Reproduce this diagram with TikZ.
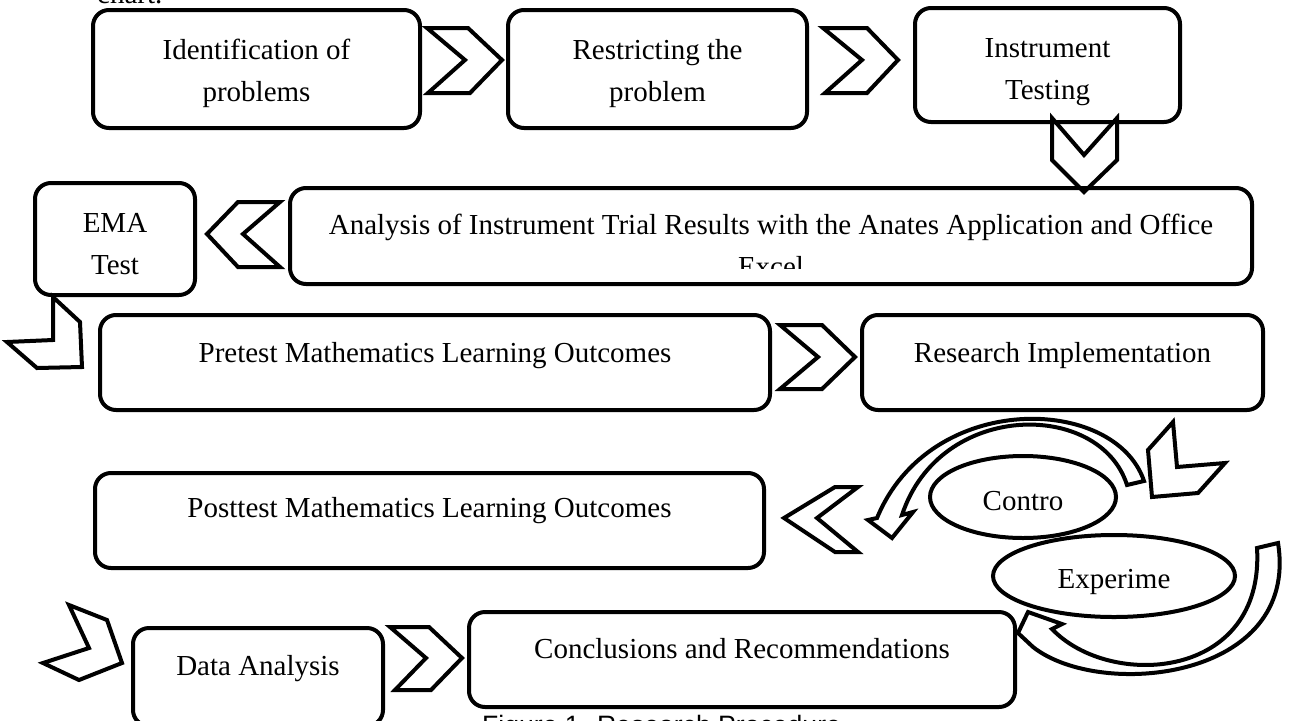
\documentclass[tikz,border=0pt]{standalone}
\usepackage{fontspec}
\setmainfont{Liberation Serif}
\newfontfamily\capfont{Liberation Sans}
\usetikzlibrary{shapes.geometric}
\newcommand{\twoln}[2]{\vtop{\halign{\hfil##\hfil\cr #1\cr #2\cr}}}
\begin{document}
\begin{tikzpicture}[x=1pt,y=-1pt,
  txt/.style={font=\fontsize{29}{42}\selectfont, inner sep=0pt},
  box/.style={txt, draw, line width=4pt, rounded corners=16pt, fill=white, anchor=base, minimum height=0pt},
  chev/.style={draw, line width=4pt, line join=miter, miter limit=10},
  carrow/.style={draw, line width=4pt, fill=white, line join=miter, miter limit=10},
  oval/.style={txt, draw, ellipse, line width=4pt, fill=white, text depth=0pt}]

\fill[white] (0,0) rectangle (1289,720);
\useasboundingbox (0,0) rectangle (1289,720);
\clip (0,0) rectangle (1289,720);

% clipped text at the page edges
\node[txt, anchor=base west] (chart) at (97,3.5) {chart.};
\node[font=\capfont\fontsize{26.6}{32}\selectfont, inner sep=0pt, anchor=base west] (cap) at (482,734) {Figure 1. Research Procedure};

% boxes
\node[box, minimum width=327pt, text height=49pt, text depth=69pt] (b1) at (256.5,59) {\twoln{Identification of}{problems}};
\node[box, minimum width=299pt, text height=49pt, text depth=69pt] (b2) at (657.5,59) {\twoln{Restricting the}{problem}};
\node[box, minimum width=265pt, text height=49pt, text depth=65pt] (b3) at (1047.5,57) {\twoln{Instrument}{Testing}};
\node[box, minimum width=962pt, text height=46pt, text depth=50pt] (b4) at (771,234) {Analysis of Instrument Trial Results with the Anates Application and Office};
\begin{scope}
  \clip (292,190) rectangle (1250,268);
  \node[txt, anchor=base] (excel) at (771,276) {Excel};
\end{scope}
\node[box, minimum width=160pt, text height=49pt, text depth=63pt] (ema) at (115,232) {\twoln{EMA}{Test}};
\node[box, minimum width=670pt, text height=47pt, text depth=48pt] (pre) at (435,362) {Pretest Mathematics Learning Outcomes};
\node[box, minimum width=401pt, text height=47pt, text depth=48pt] (res) at (1062.5,362) {Research Implementation};
\node[box, minimum width=669pt, text height=44pt, text depth=51pt] (post) at (429.5,517) {Posttest Mathematics Learning Outcomes};
\node[box, minimum width=250pt, text height=47pt, text depth=51pt] (data) at (258,675) {Data Analysis};
\node[box, minimum width=546pt, text height=46pt, text depth=49pt] (conc) at (742,658) {Conclusions and Recommendations};

% chevrons
\draw[chev] (427,28) -- (468,28) -- (502,60) -- (470,93) -- (428,93) -- (465,60) -- cycle;
\draw[chev] (823,28) -- (867,28) -- (898,60) -- (867,93) -- (825,93) -- (862,60) -- cycle;
\draw[chev] (1052,118) -- (1084,155) -- (1117,118) -- (1117,160) -- (1084,192) -- (1052,160) -- cycle;
\draw[chev] (280,202) -- (238,202) -- (207,234) -- (238,267) -- (280,267) -- (243,234) -- cycle;
\draw[chev] (53,297) -- (80,322) -- (82,367) -- (37,368) -- (7,342) -- (53,340) -- cycle;
\draw[chev] (780,325) -- (822,325) -- (855,357) -- (822,389) -- (780,389) -- (818,357) -- cycle;
\draw[chev] (1173,422) -- (1177,467) -- (1225,463) -- (1198,493) -- (1152,497) -- (1148,450) -- cycle;
\draw[chev] (858,487) -- (835,487) -- (784,518) -- (835,552) -- (858,552) -- (817,518) -- cycle;
\draw[chev] (69,605) -- (107,620) -- (122,663) -- (79,680) -- (43,663) -- (89,648) -- cycle;
\draw[chev] (390,627) -- (429,627) -- (462,658) -- (431,690) -- (395,690) -- (426,658) -- cycle;

% curved arrows
\draw[carrow] (1144,481) .. controls (1115,395) and (930,390) .. (877,518)
  -- (868,520) -- (892,538) -- (913,512) -- (902,515)
  .. controls (940,400) and (1100,400) .. (1127,485) -- cycle;
\draw[carrow] (1278,543) .. controls (1300,680) and (1100,700) .. (1033,647)
  -- (1018,633) -- (1028,612) -- (1062,624) -- (1052,629)
  .. controls (1110,690) and (1265,680) .. (1257,548) -- cycle;

% ellipses
\node[oval, minimum width=186pt, minimum height=82pt, text height=26pt] (ctrl) at (1023,497) {Contro};
\node[oval, minimum width=242pt, minimum height=82pt, text height=24pt] (expm) at (1114,576) {Experime};
\end{tikzpicture}
\end{document}
